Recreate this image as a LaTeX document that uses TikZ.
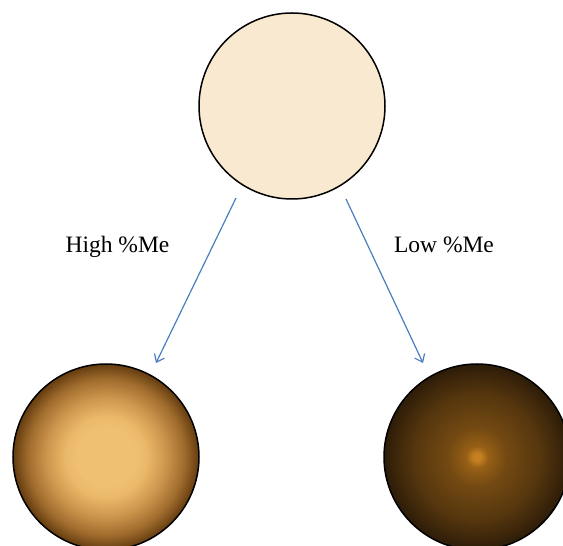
\documentclass[tikz,border=0pt]{standalone}
\usepackage{fontspec}
\setmainfont{Liberation Serif}
\usetikzlibrary{arrows.meta}
\definecolor{topfill}{RGB}{250,233,209}
\definecolor{arrowblue}{RGB}{74,126,190}
\definecolor{hc}{RGB}{239,191,114}
\definecolor{hb}{RGB}{234,184,104}
\definecolor{hm}{RGB}{205,150,78}
\definecolor{hd}{RGB}{160,108,45}
\definecolor{he}{RGB}{100,60,15}
\definecolor{lc}{RGB}{198,128,32}
\definecolor{lb}{RGB}{150,95,22}
\definecolor{lm}{RGB}{115,73,18}
\definecolor{ld}{RGB}{85,54,14}
\definecolor{le}{RGB}{45,28,8}
\pgfdeclareradialshading{highme}{\pgfpoint{0bp}{0bp}}{color(0bp)=(hc); color(8bp)=(hc); color(11bp)=(hb); color(16bp)=(hm); color(21bp)=(hd); color(25bp)=(he); color(50bp)=(he)}
\pgfdeclareradialshading{lowme}{\pgfpoint{0bp}{0bp}}{color(0bp)=(lc); color(1bp)=(lc); color(3bp)=(lb); color(8bp)=(lm); color(17bp)=(ld); color(25bp)=(le); color(50bp)=(le)}
\tikzset{
  ball/.style={circle, draw=black, line width=1.5pt, minimum size=186pt, inner sep=0pt},
  conn/.style={draw=arrowblue, line width=1.2pt, -{Straight Barb[length=7pt,width=11pt]}},
  lbl/.style={font=\fontsize{23.5}{28}\selectfont, anchor=base}
}
\begin{document}
\begin{tikzpicture}[x=1pt,y=1pt]
\useasboundingbox (0,0) rectangle (563,546);
\clip (0,0) rectangle (563,546);
\node[ball, fill=topfill] (top) at (292,440) {};
\node[ball, shading=highme] (high) at (106,89) {};
\node[ball, shading=lowme] (low) at (477,89) {};
\coordinate (hs) at (236,348);
\coordinate (he) at (156,183);
\coordinate (ls) at (346,347);
\coordinate (le) at (423,183);
\draw[conn] (hs) -- (he);
\draw[conn] (ls) -- (le);
\node[lbl] (hl) at (117.5,293) {High \%Me};
\node[lbl] (ll) at (444,293) {Low \%Me};
\end{tikzpicture}
\end{document}
